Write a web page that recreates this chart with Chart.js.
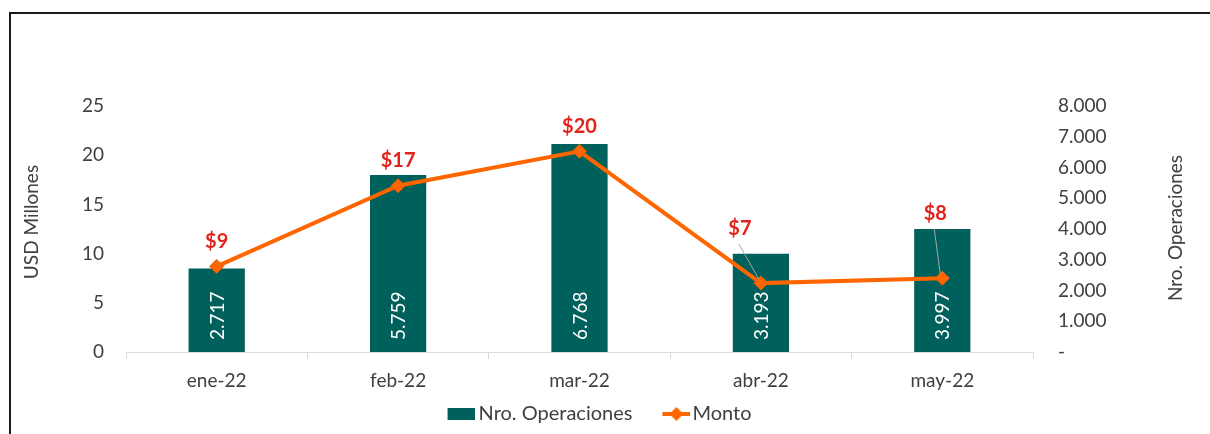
<!DOCTYPE html>
<html>
<head>
<meta charset="utf-8">
<script src="https://cdn.jsdelivr.net/npm/chart.js@4/dist/chart.umd.min.js"></script>
<style>
  html, body { margin: 0; padding: 0; background: #fff; }
  #wrap { position: relative; width: 1210px; height: 434px; overflow: hidden; }
  #frame { position: absolute; left: 9px; top: 12px; width: 1400px; height: 600px;
           border-left: 2px solid #1a1a1a; border-top: 2px solid #1a1a1a; pointer-events: none; }
</style>
</head>
<body>
<div id="wrap">
  <canvas id="myChart" width="1210" height="434"></canvas>
  <div id="frame"></div>
</div>
<script>
var meses = ['ene-22', 'feb-22', 'mar-22', 'abr-22', 'may-22'];
var operaciones = [2717, 5759, 6768, 3193, 3997];
var monto = [8.7, 16.9, 20.4, 7.0, 7.5];
var ticksUsd = [0, 5, 10, 15, 20, 25];
var ticksOper = [0, 1000, 2000, 3000, 4000, 5000, 6000, 7000, 8000];

// where the $ labels sit relative to their point (hand placed in the original)
var labelOffsets = [[0, -25], [0, -25], [0, -25], [-21, -55], [-7, -65]];

var VERDE = '#00605B';
var NARANJA = '#FF6600';
var ROJO = '#E2231A';
var GRIS = '#404040';
var FUENTE = 'Lato, "Open Sans", sans-serif';

function miles(v){
    return String(v).replace(/\B(?=(\d{3})+(?!\d))/g, '.');
}

// legend markers: drawn on the right part of a wider canvas so they sit close to the text
function cajaLeyenda(){
    var c = document.createElement('canvas');
    c.width = 52; c.height = 12;
    var g = c.getContext('2d');
    g.fillStyle = VERDE;
    g.fillRect(25, 0, 27, 12);
    return c;
}
function lineaLeyenda(){
    var c = document.createElement('canvas');
    c.width = 56; c.height = 14;
    var g = c.getContext('2d');
    g.strokeStyle = NARANJA;
    g.lineWidth = 4;
    g.beginPath(); g.moveTo(28, 7); g.lineTo(56, 7); g.stroke();
    g.fillStyle = NARANJA;
    g.beginPath(); g.moveTo(42, 0); g.lineTo(49, 7); g.lineTo(42, 14); g.lineTo(35, 7); g.closePath(); g.fill();
    return c;
}
var marcas = [cajaLeyenda(), lineaLeyenda()];

var etiquetas = {
    id: 'etiquetas',
    afterDatasetsDraw: function(chart){
        var ctx = chart.ctx;
        var barras = chart.getDatasetMeta(0).data;
        var puntos = chart.getDatasetMeta(1).data;
        ctx.save();
        // bar values, rotated inside the bar
        ctx.font = '19px ' + FUENTE;
        ctx.fillStyle = '#fff';
        ctx.textAlign = 'left';
        ctx.textBaseline = 'middle';
        for(var i = 0; i < barras.length; i++){
            ctx.save();
            ctx.translate(barras[i].x, barras[i].base - 12);
            ctx.rotate(-Math.PI / 2);
            ctx.fillText(miles(operaciones[i]), 0, 1);
            ctx.restore();
        }
        // monto labels
        ctx.font = 'bold 20px ' + FUENTE;
        ctx.textAlign = 'center';
        for(var j = 0; j < puntos.length; j++){
            var p = puntos[j];
            var lx = p.x + labelOffsets[j][0];
            var ly = p.y + labelOffsets[j][1];
            if(Math.abs(labelOffsets[j][1]) > 35){
                ctx.strokeStyle = '#a6a6a6';
                ctx.lineWidth = 1;
                ctx.beginPath();
                ctx.moveTo(lx - 1, ly + 16);
                ctx.lineTo(p.x - 2, p.y - 4);
                ctx.stroke();
            }
            ctx.fillStyle = ROJO;
            ctx.fillText('$' + Math.round(monto[j]), lx, ly);
        }
        ctx.restore();
    }
};

var titulos = {
    id: 'titulos',
    afterDraw: function(chart){
        var ctx = chart.ctx;
        var a = chart.chartArea;
        var mid = (a.top + a.bottom) / 2;
        ctx.save();
        ctx.font = '19px ' + FUENTE;
        ctx.fillStyle = GRIS;
        ctx.textAlign = 'center';
        ctx.textBaseline = 'middle';
        ctx.translate(32, mid - 7);
        ctx.rotate(-Math.PI / 2);
        ctx.fillText('USD Millones', 0, 0);
        ctx.restore();
        ctx.save();
        ctx.font = '19px ' + FUENTE;
        ctx.fillStyle = GRIS;
        ctx.textAlign = 'center';
        ctx.textBaseline = 'middle';
        ctx.translate(1176, mid - 1);
        ctx.rotate(-Math.PI / 2);
        ctx.fillText('Nro. Operaciones', 0, 0);
        ctx.restore();
    }
};

var ctx = document.getElementById('myChart');
var chart = new Chart(ctx, {
    data: {
        labels: meses,
        datasets: [
            {
                type: 'bar',
                label: 'Nro. Operaciones',
                data: operaciones,
                yAxisID: 'y1',
                backgroundColor: VERDE,
                categoryPercentage: 1,
                barPercentage: 0.31,
                order: 1
            },
            {
                type: 'line',
                label: 'Monto',
                data: monto,
                yAxisID: 'y',
                borderColor: NARANJA,
                borderWidth: 4,
                tension: 0,
                pointStyle: 'rectRot',
                pointRadius: 7,
                pointBackgroundColor: NARANJA,
                pointBorderColor: '#EE5A00',
                pointBorderWidth: 1,
                order: 0
            }
        ]
    },
    options: {
        responsive: false,
        animation: false,
        layout: { padding: { top: 106, left: 0, right: 30, bottom: 0 } },
        plugins: {
            tooltip: { enabled: false },
            legend: {
                position: 'bottom',
                labels: {
                    usePointStyle: true,
                    pointStyleWidth: 40,
                    padding: 10,
                    color: GRIS,
                    font: { family: FUENTE, size: 20 },
                    generateLabels: function(chart){
                        var items = Chart.defaults.plugins.legend.labels.generateLabels(chart);
                        items.sort(function(a, b){ return a.datasetIndex - b.datasetIndex; });
                        items.forEach(function(it){ it.pointStyle = marcas[it.datasetIndex]; });
                        return items;
                    }
                }
            }
        },
        scales: {
            x: {
                grid: { display: true, offset: true, drawOnChartArea: false, drawTicks: true, tickLength: 7, color: '#d9d9d9' },
                border: { display: true, color: '#d9d9d9' },
                ticks: { color: GRIS, padding: 10, font: { family: FUENTE, size: 19 } },
                afterFit: function(s){ s.height = 42; }
            },
            y: {
                position: 'left',
                min: 0, max: 25,
                grid: { display: false, drawTicks: false },
                border: { display: false },
                afterBuildTicks: function(s){ s.ticks = ticksUsd.map(function(v){ return {value: v}; }); },
                ticks: { color: GRIS, padding: 22, font: { family: FUENTE, size: 19 } },
                afterFit: function(s){ s.width = 126; }
            },
            y1: {
                position: 'right',
                min: 0, max: 8000,
                grid: { display: false, drawTicks: false },
                border: { display: false },
                afterBuildTicks: function(s){ s.ticks = ticksOper.map(function(v){ return {value: v}; }); },
                ticks: {
                    color: GRIS, padding: 25, font: { family: FUENTE, size: 19 },
                    callback: function(v){ return v === 0 ? '-' : miles(v); }
                },
                afterFit: function(s){ s.width = 147; }
            }
        }
    },
    plugins: [etiquetas, titulos]
});
</script>
</body>
</html>
